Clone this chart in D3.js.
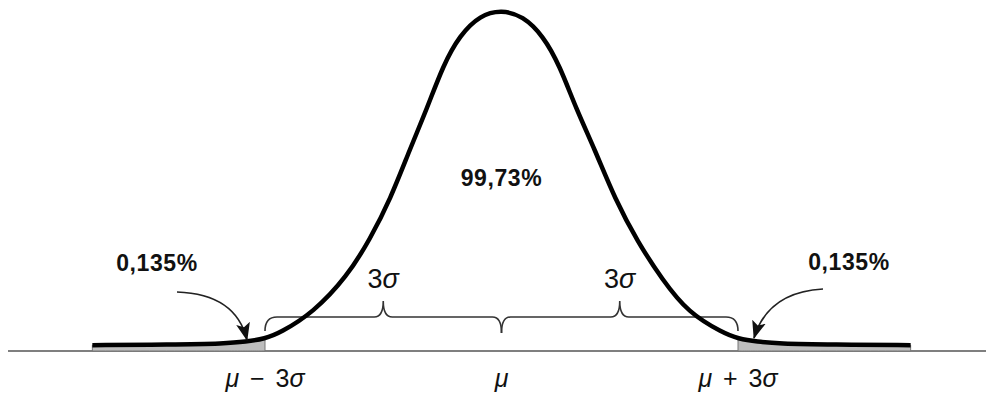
<!DOCTYPE html>
<html>
<head>
<meta charset="utf-8">
<script src="https://cdn.jsdelivr.net/npm/d3@7"></script>
<style>
  html, body { margin: 0; padding: 0; background: #fff; }
  svg { display: block; }
  text { font-family: "Liberation Sans", Arial, sans-serif; fill: #111; }
</style>
</head>
<body>
<svg id="chart" width="986" height="396"></svg>
<script>
// ---- data (x in units of sigma from the mean, y = relative density, peak = 1) ----
const curveX = [-5.19, -4.2, -3.5, -3.25, -3.0, -2.81, -2.39, -1.96, -1.67, -1.41, -1.16, -0.945, -0.74, -0.53, -0.27, 0,
                0.27, 0.53, 0.74, 0.945, 1.18, 1.44, 1.73, 2.04, 2.37, 2.81, 3.0, 3.25, 3.5, 4.2, 5.19];
const curveY = [0.017, 0.019, 0.022, 0.027, 0.036, 0.053, 0.112, 0.218, 0.327, 0.445, 0.593, 0.711, 0.838, 0.926, 0.985, 1.0,
                0.983, 0.924, 0.836, 0.711, 0.593, 0.445, 0.319, 0.209, 0.112, 0.053, 0.036, 0.027, 0.022, 0.019, 0.017];
const tickValues = [-3, 0, 3];
const tickLabels = [["μ", " − 3", "σ"], ["μ", "", ""], ["μ", " + 3", "σ"]];
const braceSpans = [[-3, 0], [0, 3]];
const braceLabel = "3σ";
const centerLabel = "99,73%";
const tailLabel = "0,135%";
const tailLimits = [-3, 3];

const points = curveX.map((v, i) => ({x: v, y: curveY[i]}));

const svg = d3.select("#chart");
const x = d3.scaleLinear().domain([-3, 3]).range([265, 738]);
const y = d3.scaleLinear().domain([0, 1]).range([351, 10]);
const base = y(0);
const smooth = d3.curveBasis;

// baseline (axis)
svg.append("line")
  .attr("x1", 8).attr("x2", 986)
  .attr("y1", base).attr("y2", base)
  .attr("stroke", "#555").attr("stroke-width", 1.6);

// shaded tails
const area = d3.area().curve(smooth)
  .x(d => x(d.x)).y0(base).y1(d => y(d.y));
const leftTail = points.filter(d => d.x <= tailLimits[0]);
const rightTail = points.filter(d => d.x >= tailLimits[1]);
[leftTail, rightTail].forEach(t => {
  svg.append("path").datum(t).attr("d", area)
    .attr("fill", "#bdbdbd").attr("stroke", "#777").attr("stroke-width", 1);
});

// braces
const yB = base - 34, yEnd = base - 20, yTip = base - 50, yMid = base - 18;
function bracePath(a, b, leftEndDown) {
  const xa = x(a), xb = x(b), xm = (xa + xb) / 2;
  const p = d3.path();
  if (leftEndDown) { p.moveTo(xa, yEnd); p.quadraticCurveTo(xa, yB, xa + 12, yB); }
  else { p.moveTo(xa, yMid); p.quadraticCurveTo(xa, yB, xa + 9, yB); }
  p.lineTo(xm - 9, yB);
  p.quadraticCurveTo(xm, yB, xm, yTip);
  p.quadraticCurveTo(xm, yB, xm + 9, yB);
  if (leftEndDown) { p.lineTo(xb - 9, yB); p.quadraticCurveTo(xb, yB, xb, yMid); }
  else { p.lineTo(xb - 12, yB); p.quadraticCurveTo(xb, yB, xb, yEnd); }
  return p.toString();
}
braceSpans.forEach((s, i) => {
  svg.append("path").attr("d", bracePath(s[0], s[1], i === 0))
    .attr("fill", "none").attr("stroke", "#333").attr("stroke-width", 1.6);
  const xm = x((s[0] + s[1]) / 2);
  const t = svg.append("text").attr("x", xm).attr("y", base - 63)
    .attr("text-anchor", "middle").attr("font-size", 27);
  t.append("tspan").text(braceLabel[0]);
  t.append("tspan").attr("font-style", "italic").text(braceLabel[1]);
});

// main curve
const line = d3.line().curve(smooth).x(d => x(d.x)).y(d => y(d.y));
svg.append("path").datum(points).attr("d", line)
  .attr("fill", "none").attr("stroke", "#000").attr("stroke-width", 4.5)
  .attr("stroke-linejoin", "round").attr("stroke-linecap", "butt");

// arrows
svg.append("defs").append("marker")
  .attr("id", "ah").attr("markerUnits", "userSpaceOnUse")
  .attr("viewBox", "0 -8 18 16").attr("refX", 17).attr("refY", 0)
  .attr("markerWidth", 18).attr("markerHeight", 16).attr("orient", "auto")
  .append("path").attr("d", "M0,-7 L18,0 L0,7 L4,0 Z").attr("fill", "#111");

const arrows = [
  {sx: 177, sy: 292, cx: 236, cy: 294, ex: 247, ey: 340},
  {sx: 823, sy: 289, cx: 768, cy: 292, ex: 754, ey: 338}
];
arrows.forEach(a => {
  svg.append("path")
    .attr("d", `M${a.sx},${a.sy} Q${a.cx},${a.cy} ${a.ex},${a.ey}`)
    .attr("fill", "none").attr("stroke", "#222").attr("stroke-width", 1.7)
    .attr("marker-end", "url(#ah)");
});

// tail percentage labels
svg.append("text").attr("x", 157).attr("y", 271).attr("text-anchor", "middle")
  .attr("font-size", 23).attr("font-weight", "bold").attr("letter-spacing", 0.6).text(tailLabel);
svg.append("text").attr("x", 849).attr("y", 270).attr("text-anchor", "middle")
  .attr("font-size", 23).attr("font-weight", "bold").attr("letter-spacing", 0.6).text(tailLabel);

// center label
svg.append("text").attr("x", x(0)).attr("y", 186).attr("text-anchor", "middle")
  .attr("font-size", 23).attr("font-weight", "bold").attr("letter-spacing", 0.6).text(centerLabel);

// tick labels
tickValues.forEach((v, i) => {
  const t = svg.append("text").attr("x", x(v)).attr("y", base + 36)
    .attr("text-anchor", "middle").attr("font-size", 25).attr("xml:space", "preserve")
    .attr("word-spacing", 4);
  t.append("tspan").attr("font-style", "italic").text(tickLabels[i][0]);
  if (tickLabels[i][1]) t.append("tspan").text(tickLabels[i][1]);
  if (tickLabels[i][2]) t.append("tspan").attr("font-style", "italic").text(tickLabels[i][2]);
});
</script>
</body>
</html>
